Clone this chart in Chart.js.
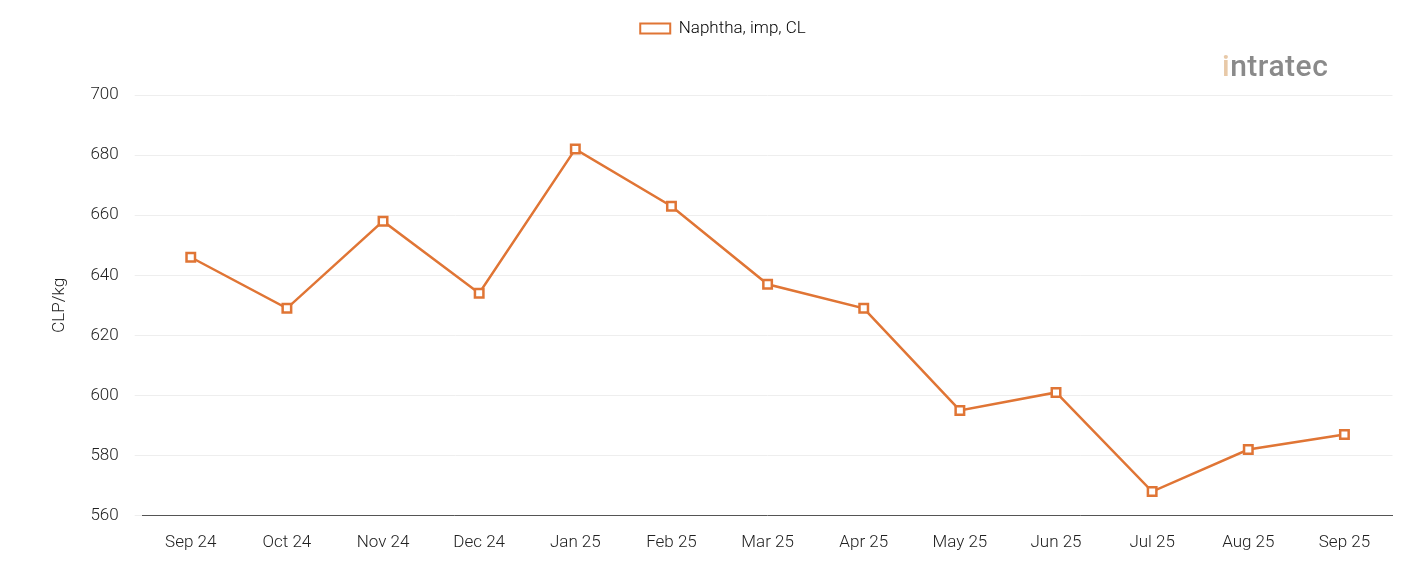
<!DOCTYPE html>
<html><head><meta charset="utf-8">
<script src="https://cdn.jsdelivr.net/npm/chart.js@4"></script>
<style>html,body{margin:0;padding:0;background:#fff}#w{position:relative;width:1401px;height:561px}
#logo{position:absolute;left:1222px;top:48px;font:500 30px Roboto,sans-serif;color:#8a8a8a;letter-spacing:0.5px}
#logo span{color:#e8c9a8}</style>
</head><body><div id="w"><canvas id="c" width="1401" height="561"></canvas><div id="logo"><span>i</span>ntratec</div></div>
<script>
const categories=["Sep 24","Oct 24","Nov 24","Dec 24","Jan 25","Feb 25","Mar 25","Apr 25","May 25","Jun 25","Jul 25","Aug 25","Sep 25"];
const naphtha=[646,629,658,634,682,663,637,629,595,601,568,582,587];
const yTicks=[560,580,600,620,640,660,680,700];
const legendPad={id:'lp',beforeInit(chart){const o=chart.legend.fit;chart.legend.fit=function(){o.bind(chart.legend)();this.height+=48;}}};
new Chart(document.getElementById('c'),{type:'line',
data:{labels:categories,datasets:[{label:'Naphtha, imp, CL',data:naphtha,borderColor:'#e07535',backgroundColor:'#fff',borderWidth:2.5,pointStyle:'rect',pointRadius:6,pointBorderWidth:2.5,pointBackgroundColor:'#fff',tension:0}]},
plugins:[legendPad],
options:{responsive:false,animation:false,layout:{padding:{left:46,right:1,top:5,bottom:0}},
plugins:{legend:{labels:{boxWidth:30,boxHeight:10,font:{family:'Roboto',size:17,weight:300},color:'#222',padding:15,
generateLabels:c=>[{text:'Naphtha, imp, CL',fillStyle:'#fff',strokeStyle:'#e07535',lineWidth:2,pointStyle:'line',datasetIndex:0}]}}},
scales:{x:{offset:true,afterFit:a=>{a.height-=1;a.paddingRight=0;},grid:{display:false},border:{color:'#555'},ticks:{font:{family:'Roboto',size:17,weight:300},color:'#222',padding:9}},
y:{min:560,max:700,afterBuildTicks:a=>{a.ticks=yTicks.map(v=>({value:v}))},grid:{color:'#eee'},border:{display:false},
ticks:{font:{family:'Roboto',size:17,weight:300},color:'#222',padding:16},title:{display:true,text:'CLP/kg',font:{family:'Roboto',size:17,weight:300},color:'#222'}}}}});
</script></body></html>
